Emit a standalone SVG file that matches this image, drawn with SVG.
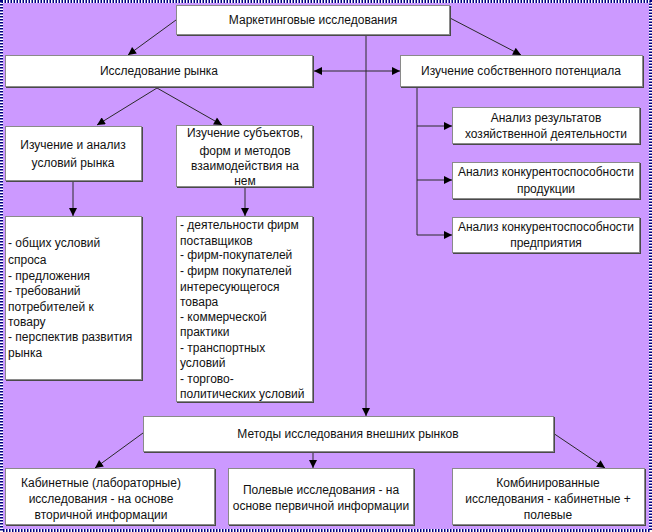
<svg xmlns="http://www.w3.org/2000/svg" width="652" height="532" viewBox="0 0 652 532">
<style>
.bx{fill:#fff;stroke:#8a8a8a;stroke-width:1}
.sh{fill:#4a4a4a}
.t{font-family:"Liberation Sans",Arial,sans-serif;font-size:12px;fill:#111}
.c{text-anchor:middle}
.ln{fill:none;stroke:#2a2a2a;stroke-width:1}
</style>
<defs>
<marker id="ah" viewBox="0 0 10 10" refX="10" refY="5" markerWidth="9" markerHeight="8" markerUnits="userSpaceOnUse" orient="auto-start-reverse"><path d="M0,0 L10,5 L0,10 z" fill="#000"/></marker>
</defs>
<rect x="0" y="0" width="652" height="532" fill="#CC99FF"/>
<rect x="1.5" y="1.5" width="649" height="529" fill="none" stroke="#fff" stroke-width="3"/>
<rect x="1.5" y="1.5" width="649" height="529" fill="none" stroke="#000080" stroke-width="3" stroke-dasharray="1.5 1.5"/>

<g id="connectors">
<line class="ln" x1="176" y1="20" x2="128" y2="55" marker-end="url(#ah)"/>
<line class="ln" x1="450" y1="18" x2="521" y2="55" marker-end="url(#ah)"/>
<line class="ln" x1="366" y1="35" x2="366" y2="416" marker-end="url(#ah)"/>
<line class="ln" x1="314" y1="71" x2="400" y2="71" marker-start="url(#ah)" marker-end="url(#ah)"/>
<line class="ln" x1="157" y1="88" x2="97" y2="125" marker-end="url(#ah)"/>
<line class="ln" x1="157" y1="88" x2="222" y2="125" marker-end="url(#ah)"/>
<line class="ln" x1="73" y1="181" x2="73" y2="216" marker-end="url(#ah)"/>
<line class="ln" x1="245" y1="187" x2="245" y2="216" marker-end="url(#ah)"/>
<line class="ln" x1="417" y1="87" x2="417" y2="235"/>
<line class="ln" x1="417" y1="126" x2="452" y2="126" marker-end="url(#ah)"/>
<line class="ln" x1="417" y1="180" x2="452" y2="180" marker-end="url(#ah)"/>
<line class="ln" x1="417" y1="235" x2="452" y2="235" marker-end="url(#ah)"/>
<line class="ln" x1="143" y1="433" x2="95" y2="468" marker-end="url(#ah)"/>
<line class="ln" x1="313" y1="452" x2="313" y2="468" marker-end="url(#ah)"/>
<line class="ln" x1="553" y1="433" x2="605" y2="468" marker-end="url(#ah)"/>
</g>

<g id="n-marketing">
<rect class="sh" x="177" y="6" width="274" height="30"/>
<rect class="bx" x="176.5" y="5.5" width="273" height="29"/>
<text class="t c" x="313" y="24">Маркетинговые исследования</text>
</g>

<g id="n-market">
<rect class="sh" x="6" y="56" width="308" height="32"/>
<rect class="bx" x="5.5" y="55.5" width="307" height="31"/>
<text class="t c" x="159" y="75">Исследование рынка</text>
</g>

<g id="n-potential">
<rect class="sh" x="401" y="56" width="243" height="32"/>
<rect class="bx" x="400.5" y="55.5" width="242" height="31"/>
<text class="t c" x="521" y="75">Изучение собственного потенциала</text>
</g>

<g id="n-conditions">
<rect class="sh" x="6" y="127" width="137" height="55"/>
<rect class="bx" x="5.5" y="126.5" width="136" height="54"/>
<text class="t c" x="73" y="149">Изучение и анализ</text>
<text class="t c" x="73" y="167">условий рынка</text>
</g>

<g id="n-subjects">
<rect class="sh" x="177" y="126" width="137" height="62"/>
<rect class="bx" x="176.5" y="125.5" width="136" height="61"/>
<text class="t c" x="245" y="137">Изучение субъектов,</text>
<text class="t c" x="245" y="155">форм и методов</text>
<text class="t c" x="245" y="170">взаимодействия на</text>
<text class="t c" x="245" y="185">нем</text>
</g>

<g id="n-list-left">
<rect class="sh" x="6" y="217" width="137" height="164"/>
<rect class="bx" x="5.5" y="216.5" width="136" height="163"/>
<text class="t" x="8" y="247">- общих условий</text>
<text class="t" x="8" y="264">спроса</text>
<text class="t" x="8" y="280">- предложения</text>
<text class="t" x="8" y="295">- требований</text>
<text class="t" x="8" y="311">потребителей к</text>
<text class="t" x="8" y="326">товару</text>
<text class="t" x="8" y="341">- перспектив развития</text>
<text class="t" x="8" y="357">рынка</text>
</g>

<g id="n-list-right">
<rect class="sh" x="177" y="217" width="137" height="186"/>
<rect class="bx" x="176.5" y="216.5" width="136" height="185"/>
<text class="t" x="180" y="229">- деятельности фирм</text>
<text class="t" x="180" y="245">поставщиков</text>
<text class="t" x="180" y="259">- фирм-покупателей</text>
<text class="t" x="180" y="275">- фирм покупателей</text>
<text class="t" x="180" y="291">интересующегося</text>
<text class="t" x="180" y="306">товара</text>
<text class="t" x="180" y="321">- коммерческой</text>
<text class="t" x="180" y="336">практики</text>
<text class="t" x="180" y="352">- транспортных</text>
<text class="t" x="180" y="367">условий</text>
<text class="t" x="180" y="383">- торгово-</text>
<text class="t" x="180" y="398">политических условий</text>
</g>

<g id="n-results">
<rect class="sh" x="453" y="108" width="188" height="37"/>
<rect class="bx" x="452.5" y="107.5" width="187" height="36"/>
<text class="t c" x="546" y="122">Анализ результатов</text>
<text class="t c" x="546" y="138">хозяйственной деятельности</text>
</g>

<g id="n-product">
<rect class="sh" x="453" y="163" width="188" height="37"/>
<rect class="bx" x="452.5" y="162.5" width="187" height="36"/>
<text class="t c" x="546" y="176">Анализ конкурентоспособности</text>
<text class="t c" x="546" y="193">продукции</text>
</g>

<g id="n-enterprise">
<rect class="sh" x="453" y="218" width="188" height="36"/>
<rect class="bx" x="452.5" y="217.5" width="187" height="35"/>
<text class="t c" x="546" y="231">Анализ конкурентоспособности</text>
<text class="t c" x="546" y="247">предприятия</text>
</g>

<g id="n-methods">
<rect class="sh" x="144" y="417" width="411" height="36"/>
<rect class="bx" x="143.5" y="416.5" width="410" height="35"/>
<text class="t c" x="348" y="438">Методы исследования внешних рынков</text>
</g>

<g id="n-desk">
<rect class="sh" x="6" y="469" width="210" height="57"/>
<rect class="bx" x="5.5" y="468.5" width="209" height="56"/>
<text class="t c" x="101" y="487">Кабинетные (лабораторные)</text>
<text class="t c" x="101" y="503">исследования - на основе</text>
<text class="t c" x="101" y="519">вторичной информации</text>
</g>

<g id="n-field">
<rect class="sh" x="229" y="469" width="186" height="57"/>
<rect class="bx" x="228.5" y="468.5" width="185" height="56"/>
<text class="t c" x="321" y="494">Полевые исследования - на</text>
<text class="t c" x="321" y="510">основе первичной информации</text>
</g>

<g id="n-combined">
<rect class="sh" x="453" y="469" width="193" height="57"/>
<rect class="bx" x="452.5" y="468.5" width="192" height="56"/>
<text class="t c" x="548" y="487">Комбинированные</text>
<text class="t c" x="548" y="503">исследования - кабинетные +</text>
<text class="t c" x="548" y="519">полевые</text>
</g>
</svg>
